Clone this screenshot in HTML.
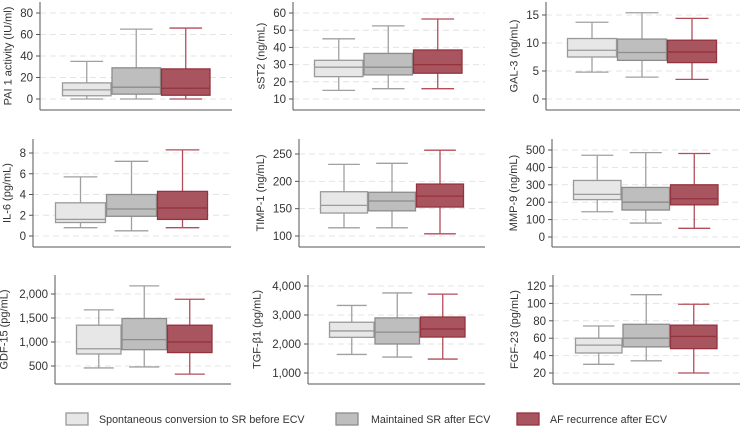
<!DOCTYPE html>
<html><head><meta charset="utf-8"><style>
html,body{margin:0;padding:0;background:#fff;}
svg{display:block;font-family:"Liberation Sans",sans-serif;}
</style></head><body>
<svg id="chart" width="740" height="428" viewBox="0 0 740 428" xmlns="http://www.w3.org/2000/svg"></svg>
<script>
// ---- data (min, q1, median, q3, max) per group ----
const panelNames = ["PAI 1 activity (IU/ml)","sST2 (ng/mL)","GAL-3 (ng/mL)","IL-6 (pg/mL)","TIMP-1 (ng/mL)","MMP-9 (ng/mL)","GDF-15 (pg/mL)","TGF-β1 (pg/mL)","FGF-23 (pg/mL)"];
const groups = ["Spontaneous conversion to SR before ECV","Maintained SR after ECV","AF recurrence after ECV"];
const paiValues  = [[0,3,8.5,15,35],[0,4.5,11,29,65],[0,3.5,10,28,66]];
const sst2Values = [[15,23,28.5,32.5,45],[16,24,28.5,36.5,52.5],[16,25,30,38.5,56.5]];
const gal3Values = [[4.8,7.5,8.7,10.8,13.7],[3.9,6.9,8.3,10.7,15.4],[3.5,6.5,8.4,10.5,14.4]];
const il6Values  = [[0.8,1.3,1.6,3.2,5.7],[0.5,1.9,2.6,4.0,7.2],[0.8,1.6,2.7,4.3,8.3]];
const timpValues = [[115,142,156,181,231],[115,146,164,180,233],[104,153,173,195,257]];
const mmpValues  = [[145,215,245,325,470],[80,155,200,285,485],[50,185,220,300,480]];
const gdfValues  = [[460,750,860,1350,1670],[480,840,1050,1490,2170],[330,780,1000,1350,1890]];
const tgfValues  = [[1640,2230,2450,2750,3330],[1550,2000,2410,2900,3760],[1480,2240,2520,2930,3720]];
const fgfValues  = [[30,43,52,60,74],[34,50,60,76,110],[20,48,62,75,99]];
const paiTicks=[0,20,40,60,80], sst2Ticks=[10,20,30,40,50,60], gal3Ticks=[0,5,10,15],
      il6Ticks=[0,2,4,6,8], timpTicks=[100,150,200,250], mmpTicks=[0,100,200,300,400,500],
      gdfTicks=[500,1000,1500,2000], tgfTicks=[1000,2000,3000,4000], fgfTicks=[20,40,60,80,100,120];

const allValues=[paiValues,sst2Values,gal3Values,il6Values,timpValues,mmpValues,gdfValues,tgfValues,fgfValues];
const allTicks=[paiTicks,sst2Ticks,gal3Ticks,il6Ticks,timpTicks,mmpTicks,gdfTicks,tgfTicks,fgfTicks];
const layout=[
 [40,232,2,110,99,13,62,49.5],[293,485,2,110,99,13,314,49.5],[546,740,2,110,99,15,567,50],
 [33,231,139,247,236,153,55,51],[299,485,139,247,236,154,320,48],[552,740,139,247,237,150,573,48.5],
 [55,231,275,384,366,294,76,45.5],[308,485,275,384,373,286,329,45.5],[553,740,275,384,373,286,575,47.5]];
const fills=["#e6e7e6","#bebebe","#a9555f"], strokes=["#9a9a9a","#8c8c8c","#94323e"], wcol=["#a0a0a0","#a0a0a0","#b24e5a"];
const NS="http://www.w3.org/2000/svg", svg=document.getElementById('chart');
function mk(t,a,p){const e=document.createElementNS(NS,t);for(const k in a)e.setAttribute(k,a[k]);(p||svg).appendChild(e);return e;}
function fmt(v){return v>=1000?v.toLocaleString('en-US'):String(v);}

allValues.forEach((vals,pi)=>{
  const [ax,rx,top,bot,pLo,pHi,bs,bw]=layout[pi], ticks=allTicks[pi];
  const tLo=ticks[0], tHi=ticks[ticks.length-1];
  const y=v=>pLo+(v-tLo)*(pHi-pLo)/(tHi-tLo);
  const g=mk('g',{});
  
  
  let maxw=0;
  ticks.forEach(t=>{
    const gl=mk('line',{x1:ax,x2:rx,y1:y(t),y2:y(t),stroke:'#e4e4e4','stroke-width':1,'stroke-dasharray':'6,4'},g);
    
    
    mk('line',{x1:ax-4,x2:ax,y1:y(t),y2:y(t),stroke:'#555','stroke-width':1},g);
    const tx=mk('text',{x:ax-7,y:y(t)+4,'text-anchor':'end','font-size':11.5,fill:'#333'},g);
    tx.textContent=fmt(t);
    
    
    maxw=Math.max(maxw,fmt(t).length*6.3);
  });
  const axl=mk('line',{x1:ax,x2:ax,y1:top,y2:bot,stroke:'#555','stroke-width':1},g);
  
  
  const xl=mk('line',{x1:ax,x2:rx,y1:bot,y2:bot,stroke:'#555','stroke-width':1},g);
  
  
  const lx=ax-7-maxw-9, ly=(top+bot)/2;
  const lab=mk('text',{x:lx,y:ly,'text-anchor':'middle','font-size':11,fill:'#333',transform:`rotate(-90 ${lx} ${ly})`},g);
  lab.textContent=panelNames[pi];
  
  
  vals.forEach((v,gi)=>{
    const x0=bs+gi*bw, cx=x0+bw/2, cw=bw*0.33;
    const bg=mk('g',{},g);
    
    
    mk('line',{x1:cx,x2:cx,y1:y(v[0]),y2:y(v[1]),stroke:wcol[gi],'stroke-width':1.3},bg);
    mk('line',{x1:cx,x2:cx,y1:y(v[3]),y2:y(v[4]),stroke:wcol[gi],'stroke-width':1.3},bg);
    mk('line',{x1:cx-cw,x2:cx+cw,y1:y(v[0]),y2:y(v[0]),stroke:wcol[gi],'stroke-width':1.3},bg);
    mk('line',{x1:cx-cw,x2:cx+cw,y1:y(v[4]),y2:y(v[4]),stroke:wcol[gi],'stroke-width':1.3},bg);
    mk('rect',{x:x0+0.5,y:y(v[3]),width:bw-1,height:y(v[1])-y(v[3]),fill:fills[gi],stroke:strokes[gi],'stroke-width':1.3},bg);
    mk('line',{x1:x0+0.5,x2:x0+bw-0.5,y1:y(v[2]),y2:y(v[2]),stroke:strokes[gi],'stroke-width':1.3},bg);
  });
});
const legX=[66,336,517], legTX=[99,371,550];
groups.forEach((gname,gi)=>{
  const lg=mk('g',{});
  
  
  mk('rect',{x:legX[gi],y:413,width:22,height:12,fill:fills[gi],stroke:strokes[gi],'stroke-width':1.3},lg);
  const t=mk('text',{x:legTX[gi],y:423,'font-size':10.7,fill:'#333'},lg);
  t.textContent=gname;
});
</script>
</body></html>
